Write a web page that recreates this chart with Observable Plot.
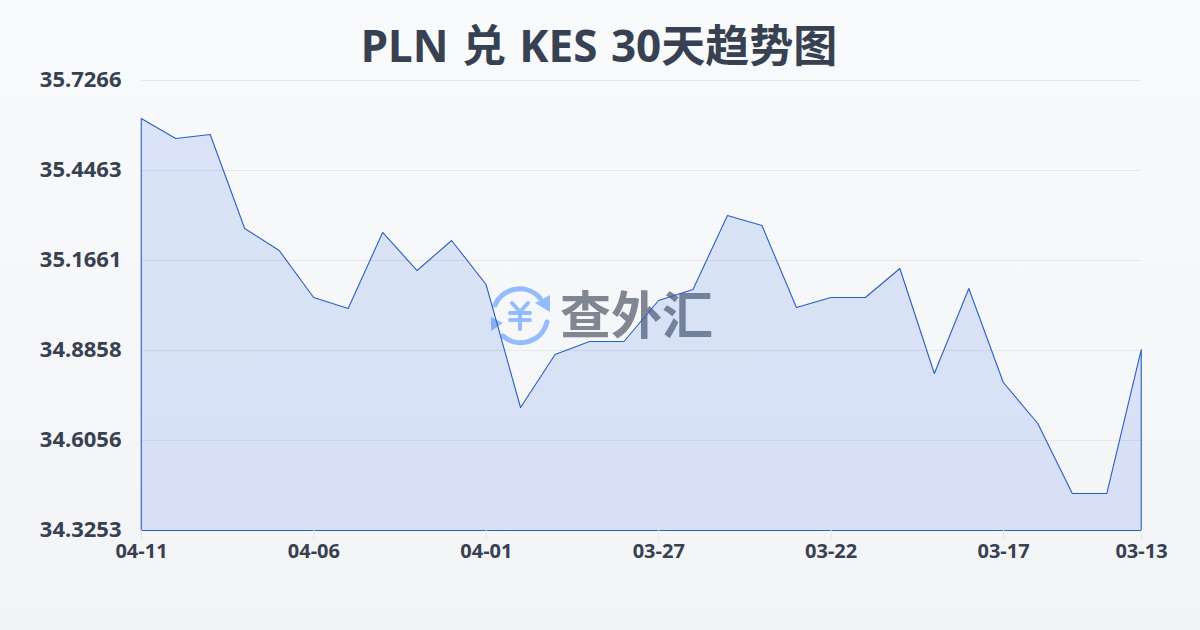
<!DOCTYPE html>
<html lang="zh-CN">
<head>
<meta charset="utf-8">
<title>PLN 兑 KES 30天趋势图</title>
<script src="https://cdn.jsdelivr.net/npm/d3@7"></script>
<script src="https://cdn.jsdelivr.net/npm/@observablehq/plot@0.6"></script>
<style>
  html, body { margin: 0; padding: 0; }
  body { width: 1200px; height: 630px; overflow: hidden; position: relative;
         background: linear-gradient(180deg, #f8fafc 0%, #f3f4f6 100%);
         font-family: "Noto Sans", "Noto Sans CJK SC", sans-serif; }
  #title { position: absolute; left: -1px; top: 0; width: 1200px; height: 60px; margin: 0; z-index: 2;
           text-align: center; font: 700 44px/90px "Noto Sans", "Noto Sans CJK SC", sans-serif;
           word-spacing: 2px; color: #374151; }
  #mark { position: absolute; left: 0; top: 0; z-index: 0; }
  #chart { position: absolute; left: 0; top: 60px; z-index: 1; }
  #chart svg { display: block; }
</style>
</head>
<body>
<h1 id="title">PLN 兑 KES 30天趋势图</h1>
<svg id="mark" width="1200" height="630" viewBox="0 0 1200 630">
  <g fill="none" stroke="#93bbfd" stroke-width="5" stroke-linecap="round">
    <path d="M495 305 A27 27 0 0 1 540 298"/>
    <path d="M547 322 A27 27 0 0 1 503 336"/>
    <path d="M512 303 L520 312 L528 303 M510 313 H530 M510 320 H530 M520 312 V329" stroke-width="4"/>
  </g>
  <g fill="#93bbfd">
    <path d="M550 295 V312 L535 303 Z"/>
    <path d="M491 317 V331 L503 323 Z"/>
  </g>
  <text x="560" y="334" font-family="Noto Sans CJK SC" font-weight="700" font-size="51" fill="#6b7280" fill-opacity="0.85">查外汇</text>
</svg>
<div id="chart"></div>
<script>
const dates = ["04-11","04-10","04-09","04-08","04-07","04-06","04-05","04-04","04-03","04-02",
  "04-01","03-31","03-30","03-29","03-28","03-27","03-26","03-25","03-24","03-23",
  "03-22","03-21","03-20","03-19","03-18","03-17","03-16","03-15","03-14","03-13"];
const rates = [35.6083,35.5460,35.5584,35.2657,35.1972,35.0509,35.0166,35.2533,35.1349,35.2284,
  35.0914,34.7083,34.8734,34.9138,34.9138,35.0415,35.0758,35.3062,35.2751,35.0197,
  35.0509,35.0509,35.1412,34.8142,35.0789,34.7862,34.6585,34.4405,34.4405,34.8889];
const yTicks = [35.7266,35.4463,35.1661,34.8858,34.6056,34.3253];
const xTicks = ["04-11","04-06","04-01","03-27","03-22","03-17","03-13"];
const table = dates.map((date, i) => ({date, rate: rates[i]}));

const plot = Plot.plot({
  width: 1200,
  height: 570,
  marginTop: 20,
  marginBottom: 100,
  marginLeft: 141,
  marginRight: 59,
  style: {background: "transparent", fontFamily: "'Noto Sans', sans-serif"},
  x: {type: "point", domain: dates, padding: 0, round: false},
  y: {domain: [yTicks[5], yTicks[0]]},
  marks: [
    Plot.gridY(yTicks, {stroke: "#e5e7eb", strokeOpacity: 1}),
    Plot.areaY(table, {x: "date", y1: yTicks[5], y2: "rate", fill: "#2a62e0", fillOpacity: 0.14,
                       stroke: "#2a5fc4", strokeWidth: 1.1, dy: 0.5, dx: 0.25}),
    Plot.axisX({ticks: xTicks, label: null, tickSize: 10, tickPadding: 3, stroke: "#e5e7eb",
                fill: "#374151", fontSize: 20, fontWeight: 700}),
    Plot.axisY({ticks: yTicks, label: null, tickSize: 0, tickPadding: 20, dy: -1,
                tickFormat: d => d.toFixed(4), fill: "#374151", fontSize: 22, fontWeight: 700})
  ]
});
document.getElementById("chart").appendChild(plot);
</script>
</body>
</html>
